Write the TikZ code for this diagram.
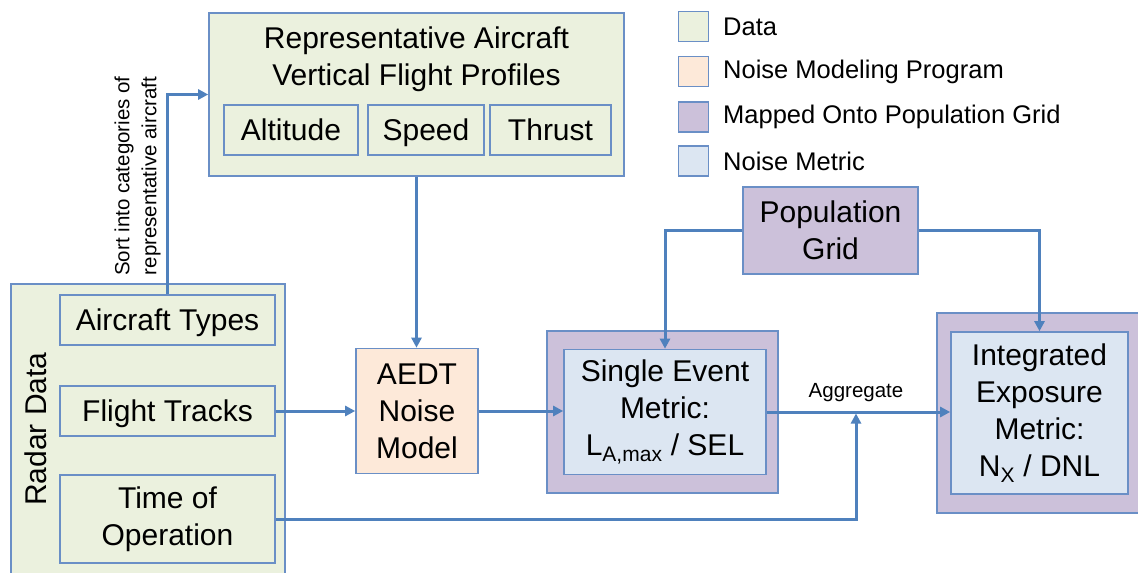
\documentclass[tikz,border=0pt]{standalone}
\usepackage{fontspec}
\setmainfont{Liberation Sans}
\usetikzlibrary{arrows.meta}
\definecolor{bordc}{HTML}{6A8FC6}
\definecolor{linec}{HTML}{4F81BD}
\definecolor{datac}{HTML}{EBF1DE}
\definecolor{modelc}{HTML}{FDE9D9}
\definecolor{gridc}{HTML}{CCC1DA}
\definecolor{metricc}{HTML}{DCE6F2}
\tikzset{
  bx/.style={draw=bordc, line width=1.6pt, inner sep=0pt, align=center, font=\fontsize{30}{37}\selectfont},
  oneline/.style={text height=26.5pt, text depth=5pt},
  databox/.style={bx, fill=datac},
  modelbox/.style={bx, fill=modelc},
  gridbox/.style={bx, fill=gridc},
  metricbox/.style={bx, fill=metricc},
  txt/.style={inner sep=0pt, align=center, font=\fontsize{30}{37}\selectfont},
  legtxt/.style={inner sep=0pt, anchor=west, font=\fontsize{25.5}{30}\selectfont},
  small/.style={inner sep=0pt, align=center, font=\fontsize{20.5}{27}\selectfont},
  legsq/.style={draw=bordc, line width=1.6pt, minimum width=30pt, minimum height=30pt, inner sep=0pt},
  conn/.style={draw=linec, line width=3pt, -{Triangle[length=10pt,width=10pt]}},
}
\begin{document}
\begin{tikzpicture}[x=1pt,y=-1pt]
\clip (0,0) rectangle (1138,573);
\fill[white] (0,0) rectangle (1138,573);

% top box
\node[databox, minimum width=415pt, minimum height=163pt] (top) at (416.5,94.5) {};
\node[txt] (toptitle) at (416.5,59.5) {Representative Aircraft\\Vertical Flight Profiles};
\node[databox, oneline, minimum width=134pt, minimum height=50pt] (alt) at (291,130) {Altitude};
\node[databox, oneline, minimum width=116pt, minimum height=50pt] (spd) at (426,130) {Speed};
\node[databox, oneline, minimum width=121pt, minimum height=50pt] (thr) at (550.5,130) {Thrust};

% legend
\node[legsq, fill=datac] (l1) at (693.5,26.5) {};
\node[legsq, fill=modelc] (l2) at (693.5,71.5) {};
\node[legsq, fill=gridc] (l3) at (693.5,117) {};
\node[legsq, fill=metricc] (l4) at (693.5,161) {};
\node[legtxt] (t1) at (723,26.5) {Data};
\node[legtxt] (t2) at (723,71.5) {Noise Modeling Program};
\node[legtxt] (t3) at (723,117) {Mapped Onto Population Grid};
\node[legtxt] (t4) at (723,161) {Noise Metric};

% population grid
\node[gridbox, minimum width=175pt, minimum height=87pt] (pg) at (830.5,230.5) {Population\\Grid};

% radar data
\node[databox, minimum width=274pt, minimum height=300pt] (radar) at (148,434) {};
\node[txt, rotate=90] (radartxt) at (36,429) {Radar Data};
\node[databox, oneline, minimum width=215pt, minimum height=50pt] (at) at (167.5,320) {Aircraft Types};
\node[databox, oneline, minimum width=215pt, minimum height=50pt] (ft) at (167.5,411) {Flight Tracks};
\node[databox, minimum width=215pt, minimum height=88pt] (tof) at (167.5,519) {Time of\\Operation};

% AEDT
\node[modelbox, minimum width=122pt, minimum height=125pt] (aedt) at (417,411) {AEDT\\Noise\\Model};

% single event
\node[gridbox, minimum width=231pt, minimum height=162pt] (seOut) at (662.5,412) {};
\node[metricbox, minimum width=202pt, minimum height=125pt] (seIn) at (665,412) {Single Event\\Metric:\\L\textsubscript{A,max} / SEL};

% integrated
\node[gridbox, minimum width=213pt, minimum height=200pt] (intOut) at (1043.5,413) {};
\node[metricbox, minimum width=177pt, minimum height=162pt] (intIn) at (1039.5,413) {Integrated\\Exposure\\Metric:\\N\textsubscript{X} / DNL};

% connectors
\draw[conn] (at.north) |- (top.west);
\node[small, rotate=90] (sorttxt) at (137.5,176) {Sort into categories of\\representative aircraft};
\draw[conn] (top.south) -- (top.south |- aedt.north);
\draw[conn] (ft.east) -- (ft.east -| aedt.west);
\draw[conn] (aedt.east) -- (aedt.east -| seIn.west);
\draw[conn] (seIn.east) -- (seIn.east -| intIn.west);
\node[small] (agg) at (856,393) {Aggregate};
\coordinate (aggj) at (856,413.5);
\draw[conn] (tof.east) -| (aggj);
\draw[conn] (pg.west) -| (seIn.north);
\draw[conn] (pg.east) -| (intIn.north);
\end{tikzpicture}
\end{document}
